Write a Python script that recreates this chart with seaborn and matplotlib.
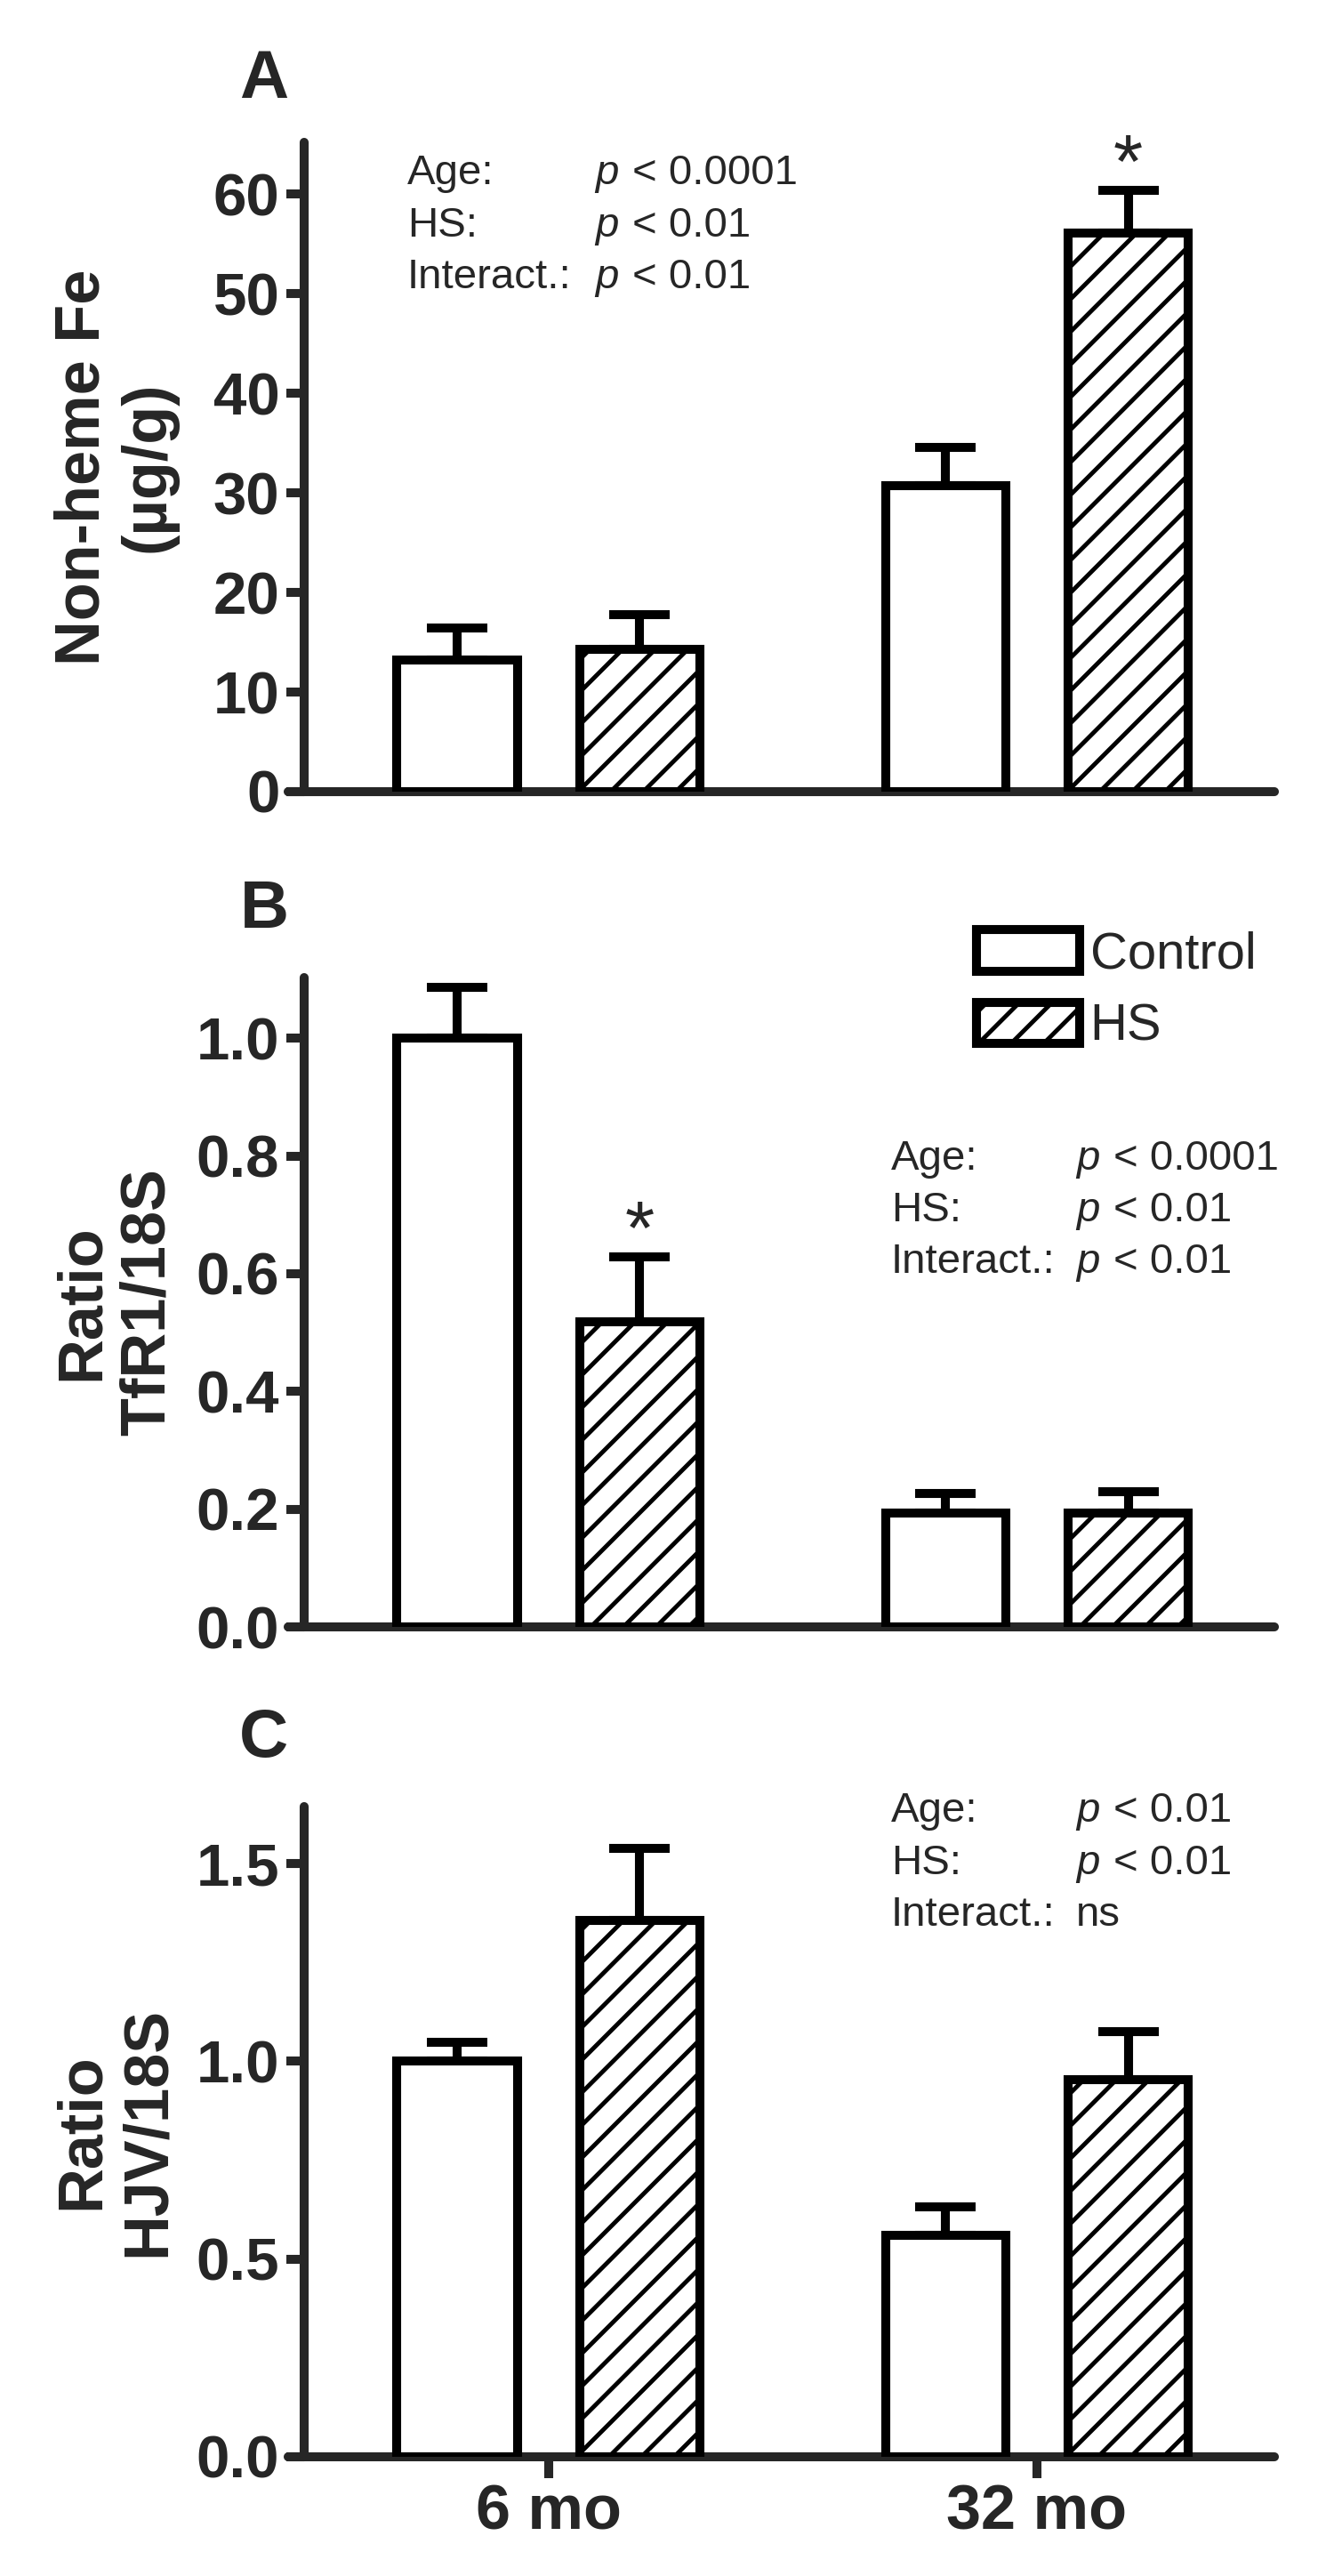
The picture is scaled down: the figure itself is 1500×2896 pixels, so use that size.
import pandas as pd
import seaborn as sns
import matplotlib.pyplot as plt
from matplotlib.patches import Patch
from matplotlib.ticker import MultipleLocator, FormatStrFormatter

sns.set_style("ticks")
plt.rcParams['font.family'] = ['Liberation Sans', 'DejaVu Sans']
plt.rcParams['hatch.linewidth'] = 1.6

# %% Data

ages = ['6 mo', '32 mo']
treatments = ['Control', 'HS']

fe_control = [13.2, 30.7]
fe_control_err = [3.2, 3.9]
fe_hs = [14.3, 56.1]
fe_hs_err = [3.5, 4.3]

tfr1_control = [1.0, 0.193]
tfr1_control_err = [0.087, 0.033]
tfr1_hs = [0.518, 0.193]
tfr1_hs_err = [0.111, 0.036]

hjv_control = [1.0, 0.56]
hjv_control_err = [0.048, 0.072]
hjv_hs = [1.356, 0.954]
hjv_hs_err = [0.183, 0.12]

stats_a = [('Age:', 'p', '< 0.0001'), ('HS:', 'p', '< 0.01'), ('Interact.:', 'p', '< 0.01')]
stats_b = [('Age:', 'p', '< 0.0001'), ('HS:', 'p', '< 0.01'), ('Interact.:', 'p', '< 0.01')]
stats_c = [('Age:', 'p', '< 0.01'), ('HS:', 'p', '< 0.01'), ('Interact.:', '', 'ns')]


def make_frame(control, control_err, hs, hs_err):
    return pd.DataFrame({
        'Age': ages * 2,
        'Group': ['Control'] * 2 + ['HS'] * 2,
        'Value': control + hs,
        'Err': control_err + hs_err,
    })


fe = make_frame(fe_control, fe_control_err, fe_hs, fe_hs_err)
tfr1 = make_frame(tfr1_control, tfr1_control_err, tfr1_hs, tfr1_hs_err)
hjv = make_frame(hjv_control, hjv_control_err, hjv_hs, hjv_hs_err)

# %% Plot

DPI = 220
W, H = 1500, 2896
LW = 3.3

fig = plt.figure(figsize=(W / DPI, H / DPI), dpi=DPI)


def px_axes(left, top, right, bottom):
    return fig.add_axes([left / W, 1 - bottom / H, (right - left) / W, (bottom - top) / H])


def px_text(x, y, s, **kw):
    fig.text(x / W, 1 - y / H, s, va='baseline', **kw)


def draw_panel(ax, df, ymax, step, fmt, ylabel, star=None):
    sns.barplot(data=df, x='Age', y='Value', hue='Group', order=ages, hue_order=treatments,
                palette=['white', 'white'], saturation=1, width=0.747, gap=0.34,
                edgecolor='black', linewidth=LW, errorbar=None, legend=False, ax=ax, zorder=3)
    for cont, grp in zip(ax.containers, treatments):
        sub = df[df.Group == grp].set_index('Age').loc[ages]
        for age, bar, m, e in zip(ages, cont, sub.Value, sub.Err):
            if grp == 'HS':
                bar.set_hatch('//')
            x = bar.get_x() + bar.get_width() / 2
            ax.errorbar(x, m, yerr=[[0], [e]], fmt='none', ecolor='black',
                        elinewidth=LW, capsize=11, capthick=LW, zorder=2)
            if star == (grp, age):
                ax.annotate('*', xy=(x, m + e), xytext=(0, 1), textcoords='offset points',
                            ha='center', va='baseline', fontsize=28)
    sns.despine(ax=ax)
    for s in ['left', 'bottom']:
        ax.spines[s].set_linewidth(LW)
        ax.spines[s].set_capstyle('round')
    ax.spines['left'].set_position(('data', -0.5))
    ax.set_xlim(-0.533, 1.486)
    ax.set_ylim(0, ymax)
    ax.yaxis.set_major_locator(MultipleLocator(step))
    ax.yaxis.set_major_formatter(FormatStrFormatter(fmt))
    ax.tick_params(axis='y', length=6.5, width=LW, labelsize=22, pad=2.6)
    for lbl in ax.get_yticklabels():
        lbl.set_fontweight('bold')
    ax.set_xlabel('')
    ax.set_ylabel(ylabel, fontsize=23, fontweight='bold', linespacing=1.15)
    ax.yaxis.set_label_coords(-0.112, 0.5)


ax_a = px_axes(324, 160, 1433, 890)
draw_panel(ax_a, fe, 65.2, 10, '%d', 'Non-heme Fe\n(µg/g)', star=('HS', '32 mo'))
ax_a.tick_params(axis='x', bottom=False, labelbottom=False)

ax_b = px_axes(324, 1099, 1433, 1829)
draw_panel(ax_b, tfr1, 1.103, 0.2, '%.1f', 'Ratio\nTfR1/18S', star=('HS', '6 mo'))
ax_b.tick_params(axis='x', bottom=False, labelbottom=False)

ax_c = px_axes(324, 2031, 1433, 2762)
draw_panel(ax_c, hjv, 1.644, 0.5, '%.1f', 'Ratio\nHJV/18S')
ax_c.tick_params(axis='x', length=8, width=LW, labelsize=23, pad=2)
for lbl in ax_c.get_xticklabels():
    lbl.set_fontweight('bold')

# legend
handles = [Patch(facecolor='white', edgecolor='black', linewidth=LW, joinstyle='round',
                 hatch=h, label=t) for t, h in zip(treatments, ['', '//'])]
ax_b.legend(handles=handles, loc='upper left', bbox_to_anchor=(1098 / W, 1 - 1045 / H),
            bbox_transform=fig.transFigure, frameon=False, fontsize=19,
            handlelength=2.0, handleheight=0.86, handletextpad=0.2,
            labelspacing=0.45, borderpad=0, borderaxespad=0)

# panel letters
for letter, y in zip(['A', 'B', 'C'], [110, 1043, 1975]):
    px_text(297, y, letter, ha='center', fontsize=25, fontweight='bold')

# statistics text
for stats, x0, xp, ys in [(stats_a, 458, 669, [207, 266, 324]),
                          (stats_b, 1002, 1210, [1315, 1373, 1431]),
                          (stats_c, 1002, 1210, [2048, 2107, 2165])]:
    for (name, p, rest), y in zip(stats, ys):
        px_text(x0, y, name, fontsize=15.5)
        if p:
            px_text(xp, y, p, fontsize=15.5, style='italic')
            px_text(xp + 42, y, rest, fontsize=15.5)
        else:
            px_text(xp, y, rest, fontsize=15.5)

fig.savefig('out.png', dpi=DPI)
